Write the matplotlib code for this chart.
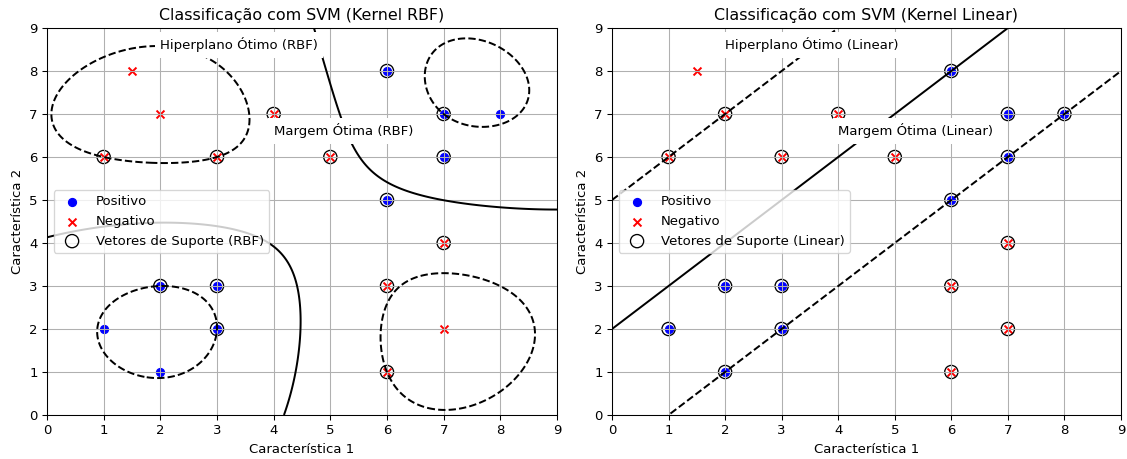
import numpy as np
import matplotlib
matplotlib.use("Agg")
import matplotlib.pyplot as plt

# Training points (feature 1, feature 2) for each class
pos_x = [6, 7, 8, 6, 7, 2, 3, 3, 1, 2]
pos_y = [8, 7, 7, 5, 6, 3, 3, 2, 2, 1]
neg_x = [1.5, 2, 4, 1, 3, 5, 7, 6, 7, 6]
neg_y = [8, 7, 7, 6, 6, 6, 4, 3, 2, 1]

X = np.column_stack([pos_x + neg_x, pos_y + neg_y]).astype(float)
y = np.array([1.0] * len(pos_x) + [-1.0] * len(neg_x))

C_PARAM = 1.0
GAMMA = 1.0 / (X.shape[1] * X.var())   # same as gamma="scale"


def rbf_kernel(A, B):
    d = ((A[:, None, :] - B[None, :, :]) ** 2).sum(-1)
    return np.exp(-GAMMA * d)


def linear_kernel(A, B):
    return A @ B.T


def fit_svc(K, y, C, tol=1e-6, max_iter=200000):
    """Solve the soft-margin SVM dual with a maximal-violating-pair SMO."""
    Q = (y[:, None] * y[None, :]) * K
    a = np.zeros(len(y))
    g = -np.ones(len(y))
    for _ in range(max_iter):
        up = ((y > 0) & (a < C)) | ((y < 0) & (a > 0))
        lo = ((y > 0) & (a > 0)) | ((y < 0) & (a < C))
        v = -y * g
        iu, il = np.where(up)[0], np.where(lo)[0]
        i = iu[np.argmax(v[iu])]
        j = il[np.argmin(v[il])]
        if v[i] - v[j] < tol:
            break
        curv = max(K[i, i] + K[j, j] - 2 * K[i, j], 1e-12)
        t = (v[i] - v[j]) / curv
        t = min(t, C - a[i] if y[i] > 0 else a[i])
        t = min(t, a[j] if y[j] > 0 else C - a[j])
        a[i] += y[i] * t
        a[j] -= y[j] * t
        g += Q[:, i] * (y[i] * t) - Q[:, j] * (y[j] * t)
    v = -y * g
    free = (a > 1e-8) & (a < C - 1e-8)
    b = v[free].mean() if free.any() else 0.0
    return a, b


# RBF model
a_rbf, b_rbf = fit_svc(rbf_kernel(X, X), y, C_PARAM)
sv_rbf = a_rbf > 1e-6

# Linear model
a_lin, b_lin = fit_svc(linear_kernel(X, X), y, C_PARAM)
sv_lin = a_lin > 1e-6
w = (a_lin * y) @ X

DPI = 95
W_PX, H_PX = 1127, 459
fig = plt.figure(figsize=(W_PX / DPI, H_PX / DPI), dpi=DPI)
ax1 = fig.add_axes([47 / W_PX, 44 / H_PX, 510 / W_PX, 387 / H_PX])
ax2 = fig.add_axes([612 / W_PX, 44 / H_PX, 509 / W_PX, 387 / H_PX])


def draw_points(ax, sv_mask, kind):
    ax.scatter(pos_x, pos_y, c='blue', label='Positivo')
    ax.scatter(neg_x, neg_y, c='red', marker='x', label='Negativo')
    ax.scatter(X[sv_mask, 0], X[sv_mask, 1], s=100, facecolors='none',
               edgecolors='k', label=f'Vetores de Suporte ({kind})')


# Left panel: RBF kernel
xx, yy = np.meshgrid(np.linspace(0, 9, 400), np.linspace(0, 9, 400))
grid = np.column_stack([xx.ravel(), yy.ravel()])
Z = (rbf_kernel(grid, X) @ (a_rbf * y) + b_rbf).reshape(xx.shape)
ax1.contour(xx, yy, Z, levels=[-1, 0, 1], colors='k',
            linestyles=['--', '-', '--'])
draw_points(ax1, sv_rbf, 'RBF')
ax1.text(2, 8.5, 'Hiperplano Ótimo (RBF)',
         bbox=dict(facecolor='white', edgecolor='none'))
ax1.text(4, 6.5, 'Margem Ótima (RBF)',
         bbox=dict(facecolor='white', edgecolor='none'))
ax1.set_title('Classificação com SVM (Kernel RBF)')

# Right panel: linear kernel
xs = np.linspace(0, 9, 200)
ax2.plot(xs, -(w[0] * xs + b_lin) / w[1], 'k-')
ax2.plot(xs, -(w[0] * xs + b_lin - 1) / w[1], 'k--')
ax2.plot(xs, -(w[0] * xs + b_lin + 1) / w[1], 'k--')
draw_points(ax2, sv_lin, 'Linear')
ax2.text(2, 8.5, 'Hiperplano Ótimo (Linear)',
         bbox=dict(facecolor='white', edgecolor='none'))
ax2.text(4, 6.5, 'Margem Ótima (Linear)',
         bbox=dict(facecolor='white', edgecolor='none'))
ax2.set_title('Classificação com SVM (Kernel Linear)')

for ax in (ax1, ax2):
    ax.set_xlim(0, 9)
    ax.set_ylim(0, 9)
    ax.set_xlabel('Característica 1')
    ax.set_ylabel('Característica 2')
    ax.grid(True)
    ax.legend(loc='center left')

fig.savefig('out.png', dpi=DPI)
